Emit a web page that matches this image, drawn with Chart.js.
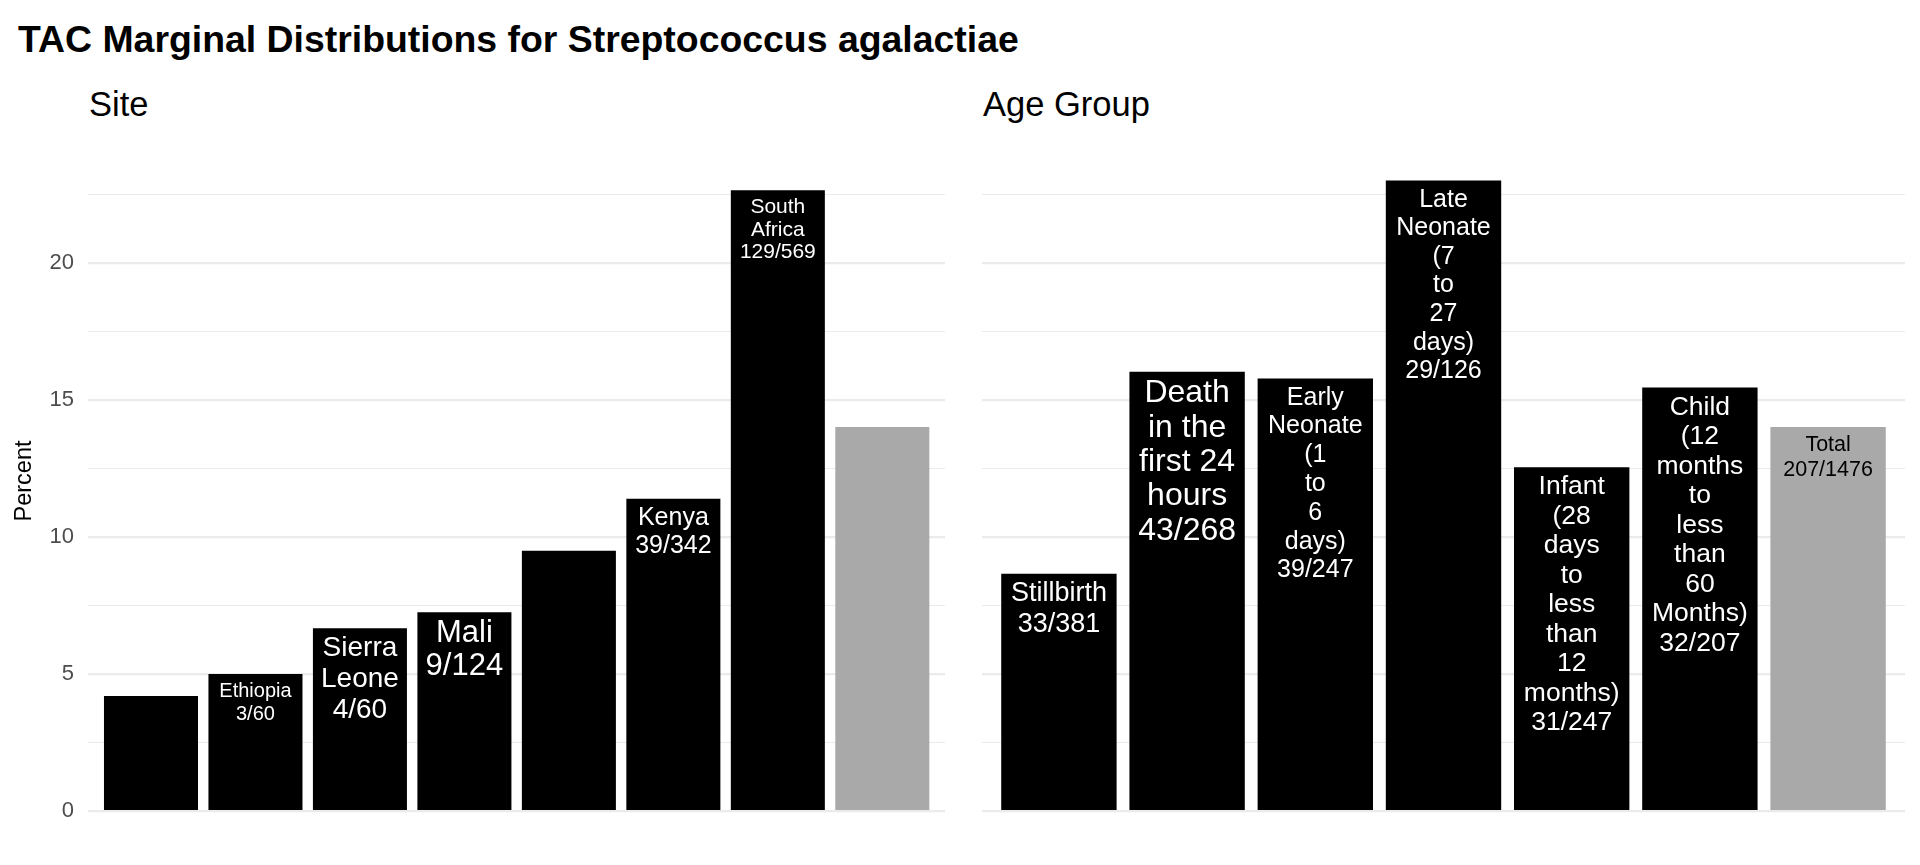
<!DOCTYPE html>
<html>
<head>
<meta charset="utf-8">
<title>TAC Marginal Distributions for Streptococcus agalactiae</title>
<script src="https://cdn.jsdelivr.net/npm/chart.js@4.4.1/dist/chart.umd.min.js"></script>
<style>
    html, body { margin: 0; padding: 0; background: #fff; }
    body {
        width: 1920px; height: 865px; position: relative; overflow: hidden;
        font-family: "Liberation Sans", Arial, Helvetica, sans-serif;
    }
    .title { position: absolute; left: 18px; top: 21px; font-size: 37.4px; font-weight: bold; line-height: 1; color: #000; white-space: nowrap; }
    .sub { position: absolute; top: 87px; font-size: 34.5px; line-height: 1; color: #000; white-space: nowrap; }
    .panel { position: absolute; top: 0; width: 960px; height: 865px; }
</style>
</head>
<body>
<div class="title">TAC Marginal Distributions for Streptococcus agalactiae</div>
<div class="sub" style="left:89px">Site</div>
<div class="sub" style="left:983px">Age Group</div>
<div class="panel" style="left:0"><canvas id="siteChart"></canvas></div>
<div class="panel" style="left:960px"><canvas id="ageChart"></canvas></div>
<script>
    // --- data ---
    // two site bars carry no label in the picture (text did not fit)
    const siteCategories = ['', 'Ethiopia', 'Sierra Leone', 'Mali', '', 'Kenya', 'South Africa', 'Total'];
    const sitePercent = [4.2, 5.0, 6.67, 7.26, 9.5, 11.4, 22.67, 14.02];
    const siteLabels = [
        [],
        ['Ethiopia', '3/60'],
        ['Sierra', 'Leone', '4/60'],
        ['Mali', '9/124'],
        [],
        ['Kenya', '39/342'],
        ['South', 'Africa', '129/569'],
        []
    ];

    const ageCategories = [
        'Stillbirth',
        'Death in the first 24 hours',
        'Early Neonate (1 to 6 days)',
        'Late Neonate (7 to 27 days)',
        'Infant (28 days to less than 12 months)',
        'Child (12 months to less than 60 Months)',
        'Total'
    ];
    const agePercent = [8.66, 16.04, 15.79, 23.02, 12.55, 15.46, 14.02];
    const ageLabels = [
        ['Stillbirth', '33/381'],
        ['Death', 'in the', 'first 24', 'hours', '43/268'],
        ['Early', 'Neonate', '(1', 'to', '6', 'days)', '39/247'],
        ['Late', 'Neonate', '(7', 'to', '27', 'days)', '29/126'],
        ['Infant', '(28', 'days', 'to', 'less', 'than', '12', 'months)', '31/247'],
        ['Child', '(12', 'months', 'to', 'less', 'than', '60', 'Months)', '32/207'],
        ['Total', '207/1476']
    ];

    const yMajorTicks = [0, 5, 10, 15, 20];
    const yMinorTicks = [2.5, 7.5, 12.5, 17.5, 22.5];

    // --- styles ---
    const FONT = '"Liberation Sans", Arial, Helvetica, sans-serif';
    const BAR = '#000000';
    const TOTAL = '#a9a9a9';
    const siteLabelSizes = [0, 20, 28, 31, 0, 25, 21, 0];
    const siteLineSteps = [0, 23, 30.6, 33, 0, 28, 22.5, 0];
    const ageLabelSizes = [27, 32, 25, 25, 26.5, 26.5, 21.5];
    const ageLineSteps = [30.6, 34.3, 28.8, 28.6, 29.5, 29.5, 25.5];
    const yMin = -1.15;
    const yMax = 25.25;

    Chart.defaults.font.family = FONT;

    // text inside the top of each bar
    const barLabelPlugin = {
        id: 'barLabels',
        afterDatasetsDraw(chart, args, opts) {
            const ctx = chart.ctx;
            const meta = chart.getDatasetMeta(0);
            meta.data.forEach((bar, i) => {
                const lines = opts.lines[i];
                if (!lines || !lines.length) return;
                const size = opts.sizes[i];
                ctx.save();
                ctx.font = size + 'px ' + FONT;
                ctx.fillStyle = opts.colors[i];
                ctx.textAlign = 'center';
                ctx.textBaseline = 'alphabetic';
                let y = bar.y + 9 + 0.68 * size;
                lines.forEach(line => {
                    ctx.fillText(line, bar.x, y);
                    y += opts.steps[i];
                });
                ctx.restore();
            });
        }
    };

    function makeChart(id, categories, percents, labelOpts, axisWidth, showLabels) {
        const n = percents.length;
        const colors = categories.map(c => c === 'Total' ? TOTAL : BAR);
        const gridValues = yMajorTicks.concat(yMinorTicks).sort((a, b) => a - b);

        return new Chart(document.getElementById(id), {
            type: 'bar',
            data: {
                datasets: [{
                    data: percents.map((v, i) => ({ x: i + 1, y: v })),
                    backgroundColor: colors,
                    borderWidth: 0,
                    barPercentage: 0.9,
                    categoryPercentage: 1
                }]
            },
            options: {
                responsive: true,
                maintainAspectRatio: false,
                animation: false,
                layout: { padding: { top: 119.5, bottom: 22.5, right: 15, left: 0 } },
                plugins: {
                    legend: { display: false },
                    tooltip: { enabled: false },
                    barLabels: labelOpts
                },
                scales: {
                    x: {
                        type: 'linear',
                        min: 0.4,
                        max: n + 0.6,
                        offset: false,
                        display: false,
                        // one tick per bar so the bar width is measured from the category step
                        afterBuildTicks: scale => {
                            scale.ticks = categories.map((c, i) => ({ value: i + 1 }));
                        }
                    },
                    y: {
                        min: yMin,
                        max: yMax,
                        border: { display: false },
                        afterBuildTicks: scale => {
                            scale.ticks = gridValues.map(v => ({ value: v }));
                        },
                        afterFit: scale => {
                            scale.width = axisWidth;
                            scale.paddingTop = 0;
                            scale.paddingBottom = 0;
                        },
                        grid: {
                            drawTicks: false,
                            color: '#ebebeb',
                            lineWidth: ctx => yMajorTicks.includes(ctx.tick.value) ? 2.2 : 1.1
                        },
                        ticks: {
                            display: showLabels,
                            autoSkip: false,
                            padding: 14.3,
                            color: '#4d4d4d',
                            font: { size: 22 },
                            callback: value => yMajorTicks.includes(value) ? String(value) : ''
                        },
                        title: {
                            display: showLabels,
                            text: 'Percent',
                            color: '#000',
                            font: { size: 23.5 },
                            padding: { top: 10, bottom: 0 }
                        }
                    }
                }
            },
            plugins: [barLabelPlugin]
        });
    }

    makeChart('siteChart', siteCategories, sitePercent, {
        lines: siteLabels,
        sizes: siteLabelSizes,
        steps: siteLineSteps,
        colors: siteCategories.map(c => c === 'Total' ? '#000' : '#fff')
    }, 88.3, true);

    makeChart('ageChart', ageCategories, agePercent, {
        lines: ageLabels,
        sizes: ageLabelSizes,
        steps: ageLineSteps,
        colors: ageCategories.map(c => c === 'Total' ? '#000' : '#fff')
    }, 22, false);
</script>
</body>
</html>
